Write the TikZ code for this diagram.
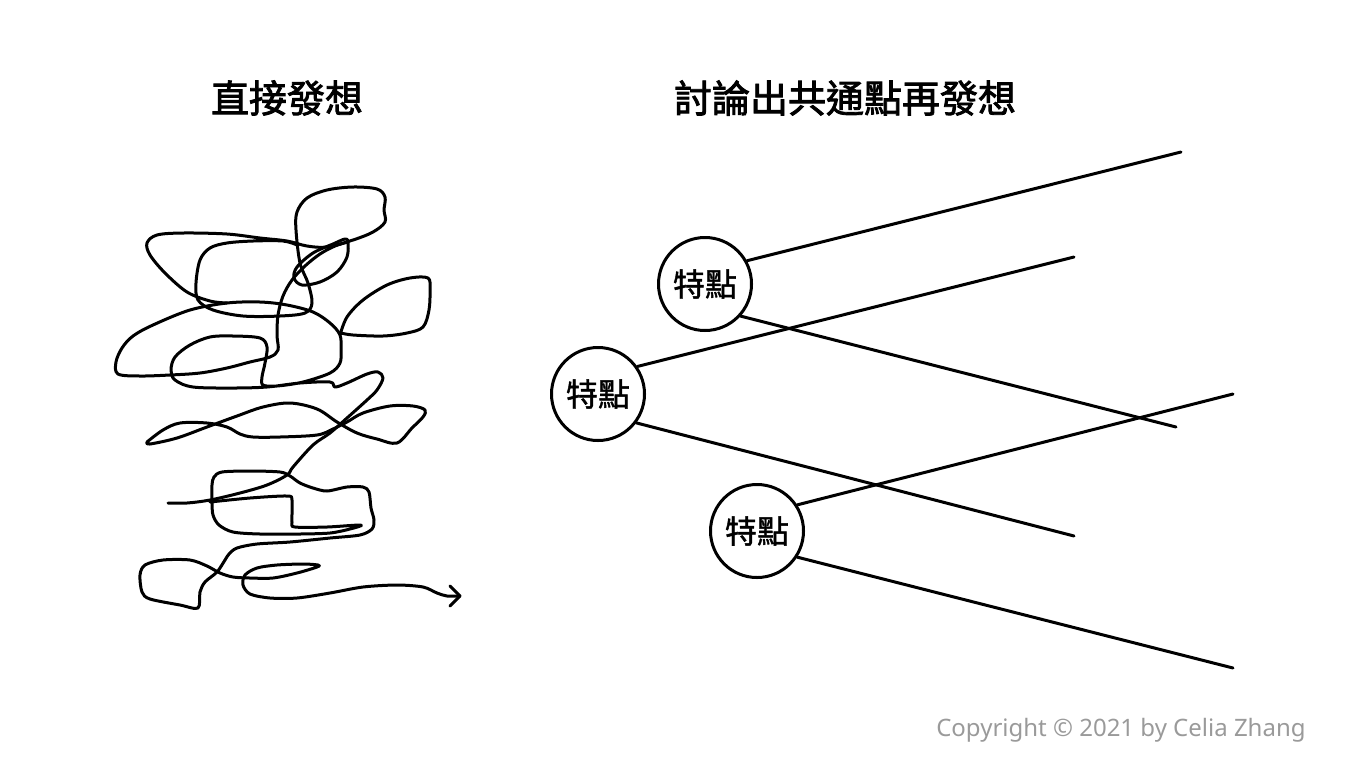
\documentclass[tikz,border=0pt]{standalone}
\usepackage{fontspec}
\newfontfamily\cjkt[FakeBold=2.2]{Noto Sans CJK TC}
\newfontfamily\cjkc[FakeBold=1.4]{Noto Sans CJK TC}
\newfontfamily\notosans{Noto Sans}
\definecolor{copygray}{HTML}{9A9A9A}
\begin{document}
\begin{tikzpicture}[x=0.5pt,y=-0.5pt,
  ink/.style={line width=1.5pt,line cap=round,line join=round},
  scrib/.style={ink},
  title/.style={font=\cjkt\fontsize{19pt}{22pt}\selectfont,inner sep=0pt},
  feat/.style={circle,draw,ink,minimum size=46.5pt,inner sep=0pt,font=\cjkc\fontsize{16pt}{18pt}\selectfont},
  branch/.style={ink}]
\useasboundingbox (0,0) rectangle (1358,772);
% titles
\node[title] (t1) at (287,98) {直接發想};
\node[title] (t2) at (845,98) {討論出共通點再發想};
% feature circles
\node[feat] (c1) at (705,284) {特點};
\node[feat] (c2) at (598,394) {特點};
\node[feat] (c3) at (757,531) {特點};
% free ends
\coordinate (e1) at (1181,152);
\coordinate (e2) at (1176,427);
\coordinate (e3) at (1074,257);
\coordinate (e4) at (1074,536);
\coordinate (e5) at (1233,394);
\coordinate (e6) at (1233,668);
\draw[branch] (c1.29) -- (e1);
\draw[branch] (c1.-42) -- (e2);
\draw[branch] (c2.35) -- (e3);
\draw[branch] (c2.-37) -- (e4);
\draw[branch] (c3.33) -- (e5);
\draw[branch] (c3.-33) -- (e6);
% scribble
\draw[scrib] plot[smooth,tension=0.55] coordinates {(227,303) (210,301) (187,292) (165,273) (150,255) (147,243) (157,235) (183,233) (227,234) (260,238) (287,241) (307,246) (327,247) (353,240) (373,232) (385,222) (384,210) (385,197) (377,189) (353,187) (327,190) (307,198) (297,212) (296,230) (300,263) (308,283) (312,303) (305,313) (280,316) (243,316) (213,310) (198,300) (196,283) (200,260) (210,248) (227,243) (253,241) (283,241) (297,245)};
\draw[scrib] plot[smooth cycle,tension=0.55] coordinates {(348,242) (347,257) (337,272) (320,282) (302,285) (294,278) (297,267) (313,253) (333,244) (345,239)};
\draw[scrib] plot[smooth,tension=0.55] coordinates {(348,242) (335,246) (320,254) (305,266) (292,280) (283,296) (278,315) (277,335) (278,350) (270,357) (250,362) (227,368) (200,373) (170,375) (140,376) (118,374) (116,362) (122,348) (133,336) (153,325) (190,310) (227,303) (260,302) (287,305) (313,312) (330,323) (340,335) (341,350) (340,363) (330,373) (303,382) (277,386) (263,385) (262,377) (265,363) (267,347) (260,338) (233,336) (210,337) (190,345) (175,357) (171,370) (175,380) (193,387) (233,388) (267,387) (300,383) (330,382) (335,387) (347,383) (367,374) (378,372) (383,378) (377,390) (367,400) (347,418) (330,433) (313,445) (293,467) (287,475) (267,485) (240,493) (210,500) (187,503) (168,503)};
\draw[scrib] plot[smooth,tension=0.55] coordinates {(340,335) (347,317) (363,300) (387,285) (410,278) (428,278) (430,290) (429,310) (423,327) (407,333) (383,336) (353,335) (341,333)};
\draw[scrib] plot[smooth,tension=0.55] coordinates {(147,442) (163,430) (180,423) (207,423) (227,427) (240,434) (253,437) (280,437) (317,435) (333,429) (347,422) (363,413) (390,406) (413,406) (425,410) (423,417) (412,428) (397,443) (377,439) (357,433) (337,422) (317,409) (290,403) (263,407) (237,416) (207,427) (177,438) (150,444) (147,442)};
\draw[scrib] plot[smooth,tension=0.5] coordinates {(210,502) (250,498) (287,496) (292,500) (292,522) (295,527) (327,527) (361,525) (350,529) (330,533) (300,534) (260,534) (233,532) (219,525) (213,515) (212,502) (212,485) (214,477) (222,472) (250,471) (280,472) (290,476) (300,483) (313,488) (327,491) (347,487) (363,487) (369,492) (371,508) (374,520) (372,529) (360,535) (330,538) (290,542) (257,544) (237,548) (229,554) (225,560) (217,572) (205,582) (200,592) (198,608) (180,605) (150,599) (142,592) (140,575) (145,565) (163,560) (190,560) (207,566) (220,573) (233,577) (250,578) (273,578) (297,573) (317,567) (318,565) (303,564) (277,565) (257,568) (245,575) (243,585) (250,594) (270,598) (297,598) (330,593) (363,587) (397,585) (423,587) (437,593) (447,596) (460,596)};
\draw[scrib] (450,586) -- (460,596) -- (450,606);
% copyright
\node[anchor=base east,inner sep=0pt,text=copygray,font=\notosans\fontsize{12pt}{14pt}\selectfont] (cp) at (1306,736) {Copyright © 2021 by Celia Zhang};
\end{tikzpicture}
\end{document}
